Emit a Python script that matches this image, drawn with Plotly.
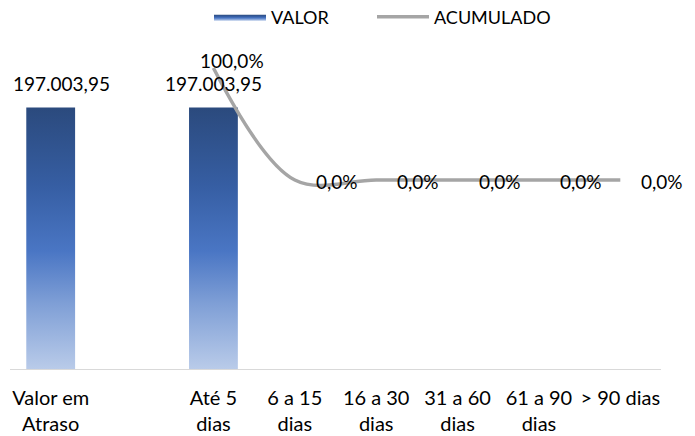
import plotly.graph_objects as go

categories = ["Valor em<br>Atraso", "", "Até 5<br>dias", "6 a 15<br>dias", "16 a 30<br>dias",
              "31 a 60<br>dias", "61 a 90<br>dias", "> 90 dias"]
valor = [197003.95, None, 197003.95, 0, 0, 0, 0, 0]
valor_labels = ["197.003,95", "", "197.003,95", "", "", "", "", ""]
acumulado = [None, None, 1.0, 0.0, 0.0, 0.0, 0.0, 0.0]
acum_labels = ["", "", "100,0%", "0,0%", "0,0%", "0,0%", "0,0%", "0,0%"]

FONT = "Lato"
FS = 19
grad = [[0, "#b9cbe9"], [0.25, "#7f9fd6"], [0.45, "#4a76c4"], [0.7, "#365ea3"], [1, "#2b4a7d"]]
half = 0.3
W, H = 695, 436

fig = go.Figure()
first = True
for i, v in enumerate(valor):
    if not v:
        continue
    fig.add_trace(go.Scatter(
        x=[i - half, i + half, i + half, i - half, i - half],
        y=[0, 0, v, v, 0],
        mode="lines", line=dict(width=0), fill="toself",
        fillgradient=dict(type="vertical", colorscale=grad),
        name="VALOR", showlegend=first, legend="legend", hoverinfo="skip", yaxis="y"))
    fig.add_annotation(x=i, y=v, text=valor_labels[i], showarrow=False, yanchor="bottom",
                       xshift=11 if first else 0, yshift=10,
                       font=dict(family=FONT, size=FS, color="#000"), xref="x", yref="y")
    first = False

xs = [i for i, a in enumerate(acumulado) if a is not None]
ys = [a for a in acumulado if a is not None]
fig.add_trace(go.Scatter(
    x=xs, y=ys, mode="lines", line=dict(color="#a5a5a5", width=3.5, shape="spline", smoothing=1),
    name="ACUMULADO", legend="legend2", yaxis="y2", hoverinfo="skip"))
for i, a in zip(xs, ys):
    big = a >= 0.99
    fig.add_annotation(x=i, y=a, text=acum_labels[i], showarrow=False, xanchor="center",
                       yanchor="middle", xshift=19 if big else 42, yshift=8 if big else -1,
                       xref="x", yref="y2", font=dict(family=FONT, size=FS, color="#000"))

leg = dict(orientation="h", xref="container", yref="container", xanchor="left",
           y=1 - 17 / H, yanchor="middle", font=dict(family=FONT, size=18), itemwidth=52)

fig.update_layout(
    width=W, height=H,
    margin=dict(l=10, r=34, t=37, b=67, autoexpand=False),
    paper_bgcolor="white", plot_bgcolor="white",
    font=dict(family=FONT, size=FS, color="#000"),
    showlegend=True,
    legend=dict(leg, x=209 / W),
    legend2=dict(leg, x=372 / W),
    xaxis=dict(range=[-0.5, 7.5], tickmode="array", tickvals=list(range(len(categories))),
               ticktext=categories, showgrid=False, zeroline=False, showline=True,
               linecolor="#d9d9d9", linewidth=1, ticks="", automargin=False,
               ticklabelstandoff=11, tickfont=dict(family=FONT, size=20)),
    yaxis=dict(range=[0, 250000], visible=False, showgrid=False, zeroline=False),
    yaxis2=dict(range=[-1.6875, 1.277], overlaying="y", visible=False, showgrid=False, zeroline=False),
)

fig.write_html("out.html", config={"displayModeBar": False},
               post_script="document.body.style.margin='0';")
